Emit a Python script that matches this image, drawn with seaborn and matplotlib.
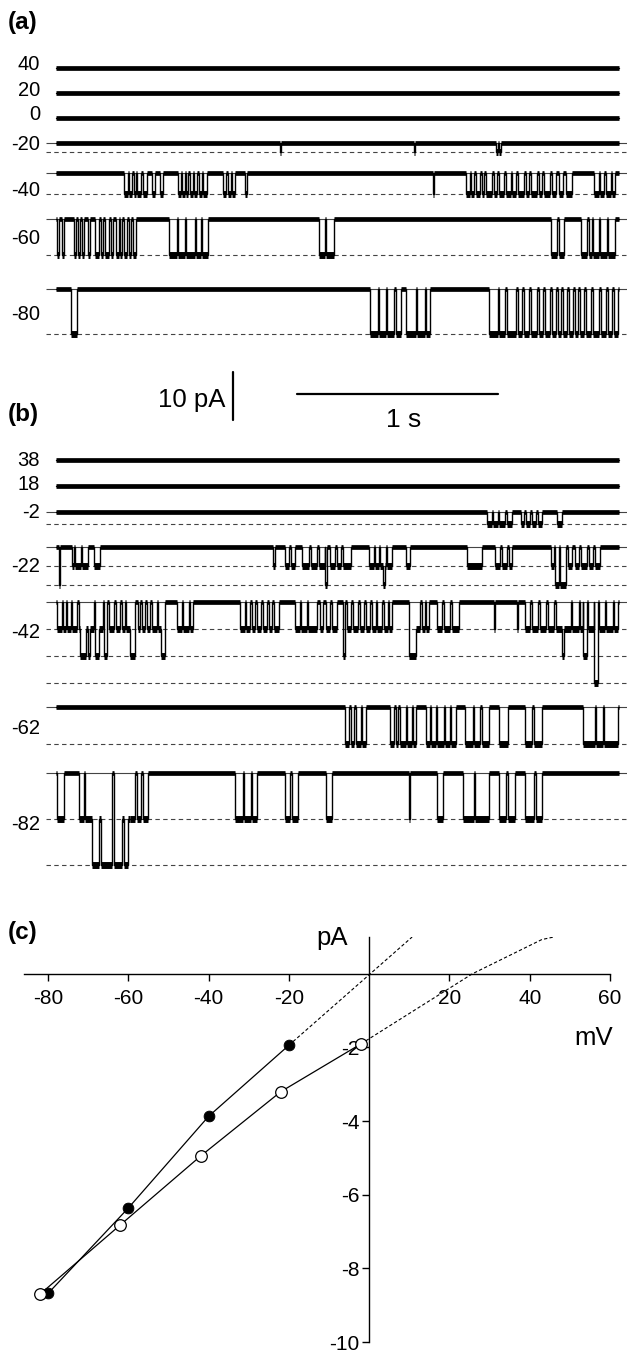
import numpy as np
import pandas as pd
import matplotlib
matplotlib.use('Agg')
import matplotlib.pyplot as plt
import seaborn as sns

sns.set_style("ticks", {'text.color': 'black', 'axes.edgecolor': 'black',
                        'xtick.color': 'black', 'ytick.color': 'black',
                        'axes.labelcolor': 'black'})
plt.rcParams['font.family'] = ['Liberation Sans', 'DejaVu Sans']
plt.rcParams['axes.unicode_minus'] = False

# ---------------- data ----------------
TRACE_MS = 2800  # length of every record

# (a) holding potentials, unitary amplitudes (pA), dashed open levels drawn
a_mv = [40, 20, 0, -20, -40, -60, -80]
a_amp = [0, 0, 0, 1.9, 4.4, 7.5, 9.4]
a_nlev = [0, 0, 0, 1, 1, 1, 1]
# openings: (start ms, end ms, number of open channels)
a_ev_m20 = [(1112, 1117, 1), (1779, 1784, 1), (2189, 2200, 1), (2204, 2213, 1)]
a_ev_m40 = [(339, 356, 1), (362, 380, 1), (386, 398, 1), (405, 425, 1), (432, 451, 1),
            (479, 492, 1), (515, 530, 1), (606, 620, 1), (625, 640, 1), (645, 656, 1),
            (668, 680, 1), (688, 702, 1), (712, 725, 1), (730, 749, 1), (833, 848, 1),
            (858, 870, 1), (878, 889, 1), (938, 952, 1), (1878, 1883, 1),
            (2040, 2060, 1), (2066, 2080, 1), (2090, 2110, 1), (2118, 2130, 1),
            (2140, 2170, 1), (2178, 2195, 1), (2205, 2230, 1), (2238, 2262, 1),
            (2270, 2290, 1), (2300, 2330, 1), (2338, 2355, 1), (2365, 2395, 1),
            (2405, 2420, 1), (2430, 2460, 1), (2470, 2490, 1), (2500, 2520, 1),
            (2535, 2565, 1), (2677, 2700, 1), (2708, 2725, 1), (2735, 2760, 1),
            (2768, 2780, 1)]
a_ev_m60 = [(4, 14, 1), (30, 40, 1), (90, 100, 1), (108, 120, 1), (130, 140, 1),
            (160, 170, 1), (195, 215, 1), (222, 232, 1), (245, 265, 1), (275, 285, 1),
            (300, 315, 1), (320, 330, 1), (340, 355, 1), (365, 372, 1), (385, 400, 1),
            (563, 600, 1), (606, 640, 1), (648, 690, 1), (696, 720, 1), (726, 758, 1),
            (1308, 1340, 1), (1345, 1382, 1), (2463, 2495, 1), (2500, 2528, 1),
            (2612, 2640, 1), (2650, 2665, 1), (2672, 2700, 1), (2706, 2740, 1),
            (2748, 2780, 1)]
a_ev_m80 = [(73, 106, 1), (1563, 1600, 1), (1605, 1640, 1), (1648, 1680, 1),
            (1690, 1718, 1), (1742, 1790, 1), (1796, 1835, 1), (1840, 1861, 1),
            (2152, 2198, 1), (2206, 2235, 1), (2243, 2290, 1), (2300, 2318, 1),
            (2328, 2355, 1), (2365, 2393, 1), (2403, 2421, 1), (2431, 2458, 1),
            (2468, 2486, 1), (2496, 2514, 1), (2524, 2542, 1), (2552, 2570, 1),
            (2580, 2598, 1), (2608, 2626, 1), (2636, 2663, 1), (2673, 2700, 1),
            (2710, 2738, 1), (2748, 2766, 1), (2776, 2798, 1)]
a_events = [[], [], [], a_ev_m20, a_ev_m40, a_ev_m60, a_ev_m80]

# (b)
b_mv = [38, 18, -2, -22, -42, -62, -82]
b_amp = [0, 0, 2.5, 4.0, 5.6, 7.7, 9.6]
b_nlev = [0, 0, 1, 2, 3, 1, 2]
b_ev_m2 = [(2146, 2170, 1), (2176, 2200, 1), (2206, 2235, 1), (2242, 2268, 1),
           (2314, 2330, 1), (2340, 2360, 1), (2370, 2390, 1), (2398, 2417, 1),
           (2491, 2519, 1)]
b_ev_m22 = [(13, 20, 2), (78, 90, 1), (95, 125, 1), (130, 160, 1), (190, 218, 1),
            (1082, 1088, 1), (1140, 1160, 1), (1168, 1187, 1), (1224, 1260, 1),
            (1268, 1300, 1), (1306, 1336, 1), (1340, 1350, 2), (1364, 1390, 1),
            (1398, 1420, 1), (1428, 1466, 1), (1559, 1580, 1), (1588, 1605, 1),
            (1612, 1625, 1), (1625, 1635, 2), (1635, 1640, 1), (1645, 1671, 1),
            (1740, 1760, 1), (2044, 2118, 1), (2184, 2210, 1), (2220, 2245, 1),
            (2252, 2268, 1), (2463, 2480, 1), (2482, 2500, 2), (2505, 2538, 2),
            (2545, 2565, 1), (2584, 2600, 1), (2610, 2640, 1), (2650, 2670, 1),
            (2680, 2705, 1)]
b_ev_m42 = [(4, 30, 1), (36, 48, 1), (55, 76, 1), (82, 104, 1), (112, 121, 1),
            (121, 150, 2), (150, 160, 1), (160, 171, 2), (171, 190, 1), (195, 215, 2),
            (215, 235, 1), (240, 255, 2), (265, 290, 1), (298, 320, 1), (326, 345, 1),
            (350, 367, 1), (367, 395, 2), (408, 420, 1), (428, 445, 1), (455, 470, 1),
            (480, 500, 1), (508, 522, 1), (522, 540, 2), (600, 625, 1), (630, 660, 1),
            (665, 684, 1), (917, 940, 1), (945, 963, 1), (975, 990, 1), (1000, 1020, 1),
            (1030, 1050, 1), (1058, 1075, 1), (1085, 1110, 1), (1187, 1215, 1),
            (1220, 1250, 1), (1256, 1299, 1), (1315, 1330, 1), (1345, 1365, 1),
            (1375, 1400, 1), (1428, 1436, 2), (1448, 1470, 1), (1478, 1500, 1),
            (1510, 1530, 1), (1540, 1560, 1), (1570, 1590, 1), (1598, 1620, 1),
            (1630, 1650, 1), (1656, 1671, 1), (1755, 1792, 2), (1792, 1810, 1),
            (1820, 1835, 1), (1842, 1857, 1), (1895, 1920, 1), (1928, 1960, 1),
            (1968, 2006, 1), (2180, 2186, 1), (2292, 2298, 1), (2332, 2360, 1),
            (2368, 2400, 1), (2408, 2440, 1), (2448, 2480, 1), (2488, 2519, 1),
            (2519, 2528, 2), (2528, 2560, 1), (2568, 2600, 1), (2606, 2620, 1),
            (2621, 2640, 2), (2645, 2675, 1), (2677, 2696, 3), (2700, 2730, 1),
            (2736, 2770, 1), (2776, 2798, 1)]
b_ev_m62 = [(1438, 1460, 1), (1466, 1485, 1), (1495, 1515, 1), (1522, 1541, 1),
            (1662, 1680, 1), (1690, 1700, 1), (1710, 1740, 1), (1748, 1770, 1),
            (1776, 1792, 1), (1839, 1860, 1), (1866, 1890, 1), (1898, 1930, 1),
            (1936, 1960, 1), (1966, 1988, 1), (2035, 2075, 1), (2082, 2110, 1),
            (2118, 2156, 1), (2202, 2249, 1), (2333, 2370, 1), (2376, 2417, 1),
            (2621, 2680, 1), (2686, 2720, 1), (2726, 2798, 1)]
b_ev_m82 = [(4, 41, 1), (116, 140, 1), (146, 181, 1), (181, 215, 2), (215, 222, 1),
            (222, 278, 2), (288, 330, 2), (330, 336, 1), (336, 360, 2), (360, 367, 1),
            (367, 395, 1), (405, 425, 1), (432, 460, 1), (889, 930, 1), (936, 970, 1),
            (976, 1000, 1), (1140, 1165, 1), (1172, 1205, 1), (1345, 1373, 1),
            (1757, 1763, 1), (1895, 1923, 1), (2025, 2080, 1), (2086, 2156, 1),
            (2202, 2240, 1), (2248, 2286, 1), (2333, 2380, 1), (2386, 2417, 1)]
b_events = [[], [], b_ev_m2, b_ev_m22, b_ev_m42, b_ev_m62, b_ev_m82]

# scale bars
bar_pa = 10
bar_ms = 1000

# (c) current-voltage relation
iv_filled_v = [-80, -60, -40, -20]
iv_filled_i = [-8.68, -6.36, -3.87, -1.94]
iv_filled_err = [0.08, 0.12, 0.10, 0.07]
iv_open_v = [-82, -62, -42, -22, -2]
iv_open_i = [-8.70, -6.82, -4.95, -3.20, -1.90]
fit_filled_v = [-20, 10.7]
fit_filled_i = [-1.94, 1.0]
fit_open_v = [-2, 25.7, 43, 46]
fit_open_i = [-1.90, 0.0, 0.93, 1.0]

# ---------------- layout (pixels of the 627x1351 image) ----------------
W, H = 627, 1351
PX_PER_PA = 4.8
PX_PER_MS = 0.201
X0 = 56
TRACE_H = 890
a_rows = [68, 93, 118, 143, 173, 219, 289]
a_label_rows = [65, 90, 114, 144, 190, 238, 315]
b_rows = [460, 486, 512, 547, 602, 707, 773]
b_label_rows = [460, 484, 512, 567, 632, 728, 824]


def step_trace(events, amp):
    bounds = sorted(set([0, TRACE_MS] + [s for s, e, n in events] + [e for s, e, n in events]))
    lev = []
    for b in bounds[:-1]:
        lev.append(max([k for s, e, k in events if s <= b < e], default=0))
    return np.array(bounds), np.array(lev)


fig = plt.figure(figsize=(W / 100, H / 100), dpi=100)

# ----- traces (a) and (b) -----
ax = fig.add_axes([0, 1 - TRACE_H / H, 1, TRACE_H / H])
ax.set_xlim(-X0 / PX_PER_MS, (W - X0) / PX_PER_MS)
ax.set_ylim(-TRACE_H / PX_PER_PA, 0)
ax.axis('off')
x_line0 = (46 - X0) / PX_PER_MS
x_line1 = (W - X0) / PX_PER_MS
x_lab = (40 - X0) / PX_PER_MS


def draw_block(mvs, amps, nlevs, events, rows, label_rows):
    for mv, amp, nlev, ev, row, lrow in zip(mvs, amps, nlevs, events, rows, label_rows):
        off = -row / PX_PER_PA
        if nlev > 0:
            ax.hlines(off, x_line0, x_line1, color='#444444', lw=0.8)
            for k in range(1, nlev + 1):
                ax.hlines(off - k * amp, x_line0, x_line1, color='#444444', lw=0.8,
                          linestyle=(0, (4, 3)))
        t, n = step_trace(ev, amp)
        y = off - n * amp
        # noise band at each level (open-channel noise is larger), thin line for transitions
        shut = n == 0
        ax.hlines(y[shut], t[:-1][shut], t[1:][shut], color='black', lw=3.4)
        ax.hlines(y[~shut], t[:-1][~shut], t[1:][~shut], color='black', lw=5.0)
        ax.plot(t, np.append(y, y[-1]), drawstyle='steps-post', color='black', lw=1.0)
        ax.text(x_lab, -lrow / PX_PER_PA, str(mv), ha='right', va='center', fontsize=14.5)


draw_block(a_mv, a_amp, a_nlev, a_events, a_rows, a_label_rows)
draw_block(b_mv, b_amp, b_nlev, b_events, b_rows, b_label_rows)

# scale bars
xv = (233 - X0) / PX_PER_MS
ytop = -372 / PX_PER_PA
ax.plot([xv, xv], [ytop, ytop - bar_pa], color='black', lw=1.6)
ax.text((225 - X0) / PX_PER_MS, -400 / PX_PER_PA, f'{bar_pa} pA', ha='right', va='center', fontsize=18.5)
xt = (297 - X0) / PX_PER_MS
ax.plot([xt, xt + bar_ms], [-394 / PX_PER_PA] * 2, color='black', lw=1.6)
ax.text(xt + bar_ms / 2 + 30, -420 / PX_PER_PA, f'{bar_ms // 1000} s', ha='center', va='center', fontsize=19)

fig.text(8 / W, 1 - 23 / H, '(a)', ha='left', va='center', fontsize=17.5, fontweight='bold')
fig.text(8 / W, 1 - 415 / H, '(b)', ha='left', va='center', fontsize=17.5, fontweight='bold')
fig.text(8 / W, 1 - 932 / H, '(c)', ha='left', va='center', fontsize=17.5, fontweight='bold')

# ----- I-V plot (c) -----
axc = fig.add_axes([24 / W, (H - 1342) / H, (610 - 24) / W, (1342 - 937) / H])
axc.set_xlim(-86, 60)
axc.set_ylim(-10, 1.0)
axc.patch.set_alpha(0)

df_f = pd.DataFrame({'V': iv_filled_v, 'I': iv_filled_i})
df_o = pd.DataFrame({'V': iv_open_v, 'I': iv_open_i})
sns.lineplot(data=df_f, x='V', y='I', color='black', lw=0.9, sort=False, ax=axc)
sns.lineplot(data=df_o, x='V', y='I', color='black', lw=0.9, sort=False, ax=axc)
axc.plot(fit_filled_v, fit_filled_i, color='black', lw=0.8, linestyle=(0, (3, 2)))
axc.plot(fit_open_v, fit_open_i, color='black', lw=0.8, linestyle=(0, (3, 2)))
axc.errorbar(iv_filled_v, iv_filled_i, yerr=iv_filled_err, fmt='none', ecolor='black',
             elinewidth=0.9, capsize=2.5, zorder=4)
sns.scatterplot(data=df_f, x='V', y='I', color='black', edgecolor='black', s=60, zorder=5, ax=axc)
sns.scatterplot(data=df_o, x='V', y='I', color='white', edgecolor='black', linewidth=0.9,
                s=70, zorder=6, ax=axc)

axc.spines['left'].set_position(('data', 0))
axc.spines['bottom'].set_position(('data', 0))
axc.spines['top'].set_visible(False)
axc.spines['right'].set_visible(False)
for sp in ['left', 'bottom']:
    axc.spines[sp].set_linewidth(1.0)
axc.set_xticks([-80, -60, -40, -20, 20, 40, 60])
axc.set_yticks([-2, -4, -6, -8, -10])
axc.tick_params(axis='both', direction='out', length=5, width=1.0, labelsize=15)
axc.tick_params(axis='x', pad=6)
axc.tick_params(axis='y', pad=2)
axc.set_xlabel('')
axc.set_ylabel('')
axc.text(-9.2, 0.97, 'pA', ha='center', va='center', fontsize=18.5)
axc.text(56, -1.73, 'mV', ha='center', va='center', fontsize=18.5)

fig.savefig('out.png', dpi=100)
